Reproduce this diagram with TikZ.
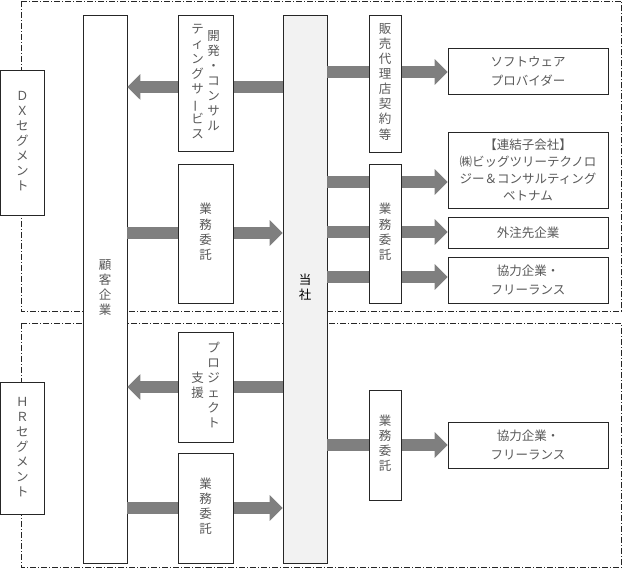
\documentclass[tikz,border=0pt]{standalone}
\usepackage{fontspec}
\usepackage{graphicx}
\setmainfont{Noto Sans CJK JP}
\usetikzlibrary{arrows.meta}
\definecolor{arrowgray}{HTML}{7F7F7F}
\definecolor{textgray}{HTML}{595959}
\definecolor{toshafill}{HTML}{F2F2F2}
\newcommand{\vcol}[1]{\begin{tabular}{@{}c@{}}#1\end{tabular}}
\newcommand{\vbar}{\rotatebox[origin=c]{90}{ー}}

\begin{document}
\begin{tikzpicture}[x=1pt,y=-1pt,
    every node/.style={font=\fontsize{12.5}{15}\selectfont, text=textgray},
    box/.style={draw=black!85, line width=0.8pt, fill=white, inner sep=0pt},
    region/.style={draw=black!85, line width=0.9pt, dash pattern=on 6pt off 2pt on 1pt off 2pt},
    bigarrow/.style={draw=arrowgray, line width=12pt, -{Triangle[length=13pt,width=25pt]}}]
  \useasboundingbox (0,0) rectangle (624,569);
  \draw[region] (21,1) rectangle (621.5,311);
  \draw[region] (21,323) rectangle (621.5,567);

  \node[box, minimum width=43.5pt, minimum height=145pt] (dx) at (22.3,142.5)
    {\vcol{Ｄ\\Ｘ\\セ\\グ\\メ\\ン\\ト}};
  \node[box, minimum width=43.5pt, minimum height=132pt] (hr) at (22.3,448)
    {\vcol{Ｈ\\Ｒ\\セ\\グ\\メ\\ン\\ト}};
  \node[box, minimum width=44pt, minimum height=548pt] (kokyaku) at (105,289)
    {\vcol{顧\\客\\企\\業}};
  \node[box, fill=toshafill, text=black, minimum width=44pt, minimum height=548pt] (tosha) at (305,289)
    {\vcol{当\\社}};

  \node[box, align=center, font=\fontsize{12.5}{19}\selectfont, minimum width=160pt, minimum height=46pt] (soft) at (528,71)
    {ソフトウェア\\プロバイダー};
  \node[box, align=center, font=\fontsize{12.5}{17}\selectfont, minimum width=160pt, minimum height=76pt] (renketsu) at (528,170)
    {【連結子会社】\\㈱ビッグツリーテクノロ\\ジー＆コンサルティング\\ベトナム};
  \node[box, minimum width=160pt, minimum height=31pt] (gaichu) at (528,232.5) {外注先企業};
  \node[box, align=center, font=\fontsize{12.5}{19}\selectfont, minimum width=160pt, minimum height=46pt] (kyoryoku1) at (528,280)
    {協力企業・\\フリーランス};
  \node[box, align=center, font=\fontsize{12.5}{19}\selectfont, minimum width=160pt, minimum height=46pt] (kyoryoku2) at (528,445)
    {協力企業・\\フリーランス};

  \coordinate (y1) at (0,87);
  \coordinate (y2) at (0,233);
  \coordinate (y3) at (0,387);
  \coordinate (y4) at (0,508);
  \coordinate (y5) at (0,72);
  \coordinate (y6) at (0,182);
  \coordinate (y7) at (0,232);
  \coordinate (y8) at (0,277);
  \coordinate (y9) at (0,445);
  \begin{scope}[bigarrow]
    \draw (tosha.west |- y1) to (kokyaku.east |- y1);
    \draw (kokyaku.east |- y2) to (tosha.west |- y2);
    \draw (tosha.west |- y3) to (kokyaku.east |- y3);
    \draw (kokyaku.east |- y4) to (tosha.west |- y4);
    \draw (tosha.east |- y5) to (soft.west |- y5);
    \draw (tosha.east |- y6) to (renketsu.west |- y6);
    \draw (tosha.east |- y7) to (gaichu.west |- y7);
    \draw (tosha.east |- y8) to (kyoryoku1.west |- y8);
    \draw (tosha.east |- y9) to (kyoryoku2.west |- y9);
  \end{scope}

  \node[box, minimum width=55pt, minimum height=136pt] (kaihatsu) at (205.5,83)
    {\vcol{テ\\ィ\\ン\\グ\\サ\\\vbar\\ビ\\ス}\hspace{3.5pt}\vcol{開\\発\\・\\コ\\ン\\サ\\ル}};
  \node[box, minimum width=55pt, minimum height=139pt] (itaku1) at (205.5,233.5)
    {\vcol{業\\務\\委\\託}};
  \node[box, minimum width=55pt, minimum height=110pt] (project) at (205.5,387)
    {\vcol{支\\援}\hspace{3.5pt}\vcol{プ\\ロ\\ジ\\ェ\\ク\\ト}};
  \node[box, minimum width=55pt, minimum height=110pt] (itaku2) at (205.5,508)
    {\vcol{業\\務\\委\\託}};
  \node[box, minimum width=32pt, minimum height=137pt] (hanbai) at (385,83.5)
    {\vcol{販\\売\\代\\理\\店\\契\\約\\等}};
  \node[box, minimum width=32pt, minimum height=139pt] (itaku3) at (385,233.5)
    {\vcol{業\\務\\委\\託}};
  \node[box, minimum width=32pt, minimum height=110pt] (itaku4) at (385,445)
    {\vcol{業\\務\\委\\託}};
\end{tikzpicture}
\end{document}
